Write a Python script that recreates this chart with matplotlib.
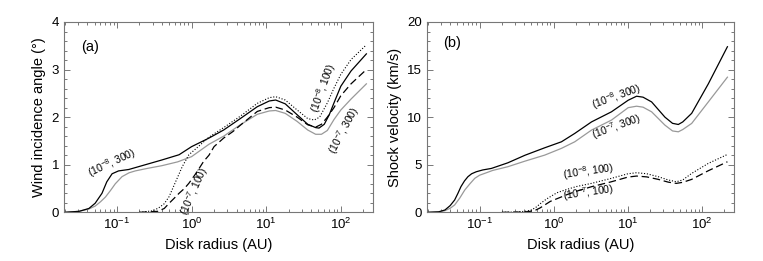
import matplotlib
matplotlib.use("Agg")
import matplotlib.pyplot as plt
from matplotlib.ticker import AutoMinorLocator

plt.rcParams["font.family"] = ["Liberation Sans", "DejaVu Sans"]
plt.rcParams["mathtext.fontset"] = "custom"
plt.rcParams["mathtext.rm"] = "Liberation Sans"
plt.rcParams["mathtext.default"] = "regular"

# ---- panel (a): wind incidence angle (deg) ----
ra_8_300 = [0.02, 0.031, 0.042, 0.051, 0.063, 0.073, 0.086, 0.105, 0.144, 0.24, 0.40, 0.68,
            1.0, 1.71, 2.69, 4.5, 7.6, 11, 13.4, 18, 26, 36, 46, 51, 60, 70, 81, 100, 137, 220]
aa_8_300 = [0.0, 0.02, 0.08, 0.19, 0.40, 0.64, 0.81, 0.87, 0.90, 1.0, 1.10, 1.21,
            1.38, 1.56, 1.73, 1.97, 2.22, 2.34, 2.36, 2.28, 2.05, 1.85, 1.78, 1.77, 1.85, 2.05, 2.3, 2.65, 2.97, 3.33]

ra_7_300 = [0.02, 0.031, 0.042, 0.051, 0.06, 0.070, 0.082, 0.095, 0.117, 0.145, 0.176, 0.25, 0.40, 0.65,
            1.0, 1.71, 2.69, 4.5, 7.6, 11, 13.4, 18, 26, 36, 46, 55, 66, 81, 100, 137, 220]
aa_7_300 = [0.0, 0.02, 0.07, 0.13, 0.22, 0.32, 0.46, 0.60, 0.75, 0.83, 0.87, 0.92, 0.98, 1.06,
            1.17, 1.43, 1.6, 1.84, 2.06, 2.13, 2.14, 2.08, 1.91, 1.73, 1.64, 1.64, 1.72, 1.95, 2.15, 2.38, 2.7]

ra_8_100 = [0.2, 0.30, 0.36, 0.43, 0.50, 0.61, 0.75, 0.92, 1.13, 1.71, 2.69, 4.5, 7.6, 11, 13.4,
            18, 26, 36, 44, 52, 66, 81, 100, 137, 220]
aa_8_100 = [0.0, 0.03, 0.09, 0.18, 0.33, 0.64, 0.96, 1.21, 1.33, 1.58, 1.78, 2.02, 2.29, 2.41, 2.43,
            2.36, 2.15, 1.97, 1.94, 2.0, 2.3, 2.61, 2.9, 3.21, 3.52]

ra_7_100 = [0.2, 0.35, 0.43, 0.50, 0.58, 0.68, 0.8, 0.92, 1.1, 1.26, 1.45, 1.71, 2.0, 2.69, 3.6, 4.5,
            7.6, 11, 13.4, 18, 26, 36, 46, 55, 66, 81, 100, 137, 220]
aa_7_100 = [0.0, 0.02, 0.08, 0.19, 0.29, 0.40, 0.5, 0.61, 0.78, 0.92, 1.07, 1.2, 1.38, 1.56, 1.70, 1.83,
            2.12, 2.2, 2.21, 2.15, 2.0, 1.84, 1.79, 1.85, 2.0, 2.2, 2.45, 2.7, 3.0]

# ---- panel (b): shock velocity (km/s) ----
rb_8_300 = [0.02, 0.028, 0.034, 0.040, 0.046, 0.051, 0.056, 0.0625, 0.0695, 0.078, 0.090, 0.11, 0.144,
            0.24, 0.41, 0.755, 1.27, 1.92, 3.23, 6.0, 10.1, 13.1, 16, 20.9, 31.6, 40, 47.9, 55, 72.5, 121.6, 220]
vb_8_300 = [0.0, 0.05, 0.24, 0.7, 1.29, 2.0, 2.7, 3.3, 3.74, 4.05, 4.26, 4.45, 4.61,
            5.2, 6.0, 6.78, 7.41, 8.29, 9.5, 10.56, 11.78, 12.2, 12.1, 11.6, 10.0, 9.35, 9.23, 9.5, 10.4, 13.5, 17.4]

rb_7_300 = [0.02, 0.028, 0.034, 0.040, 0.046, 0.054, 0.063, 0.074, 0.086, 0.100, 0.117, 0.15,
            0.24, 0.41, 0.755, 1.27, 1.92, 3.23, 6.0, 10.1, 13.1, 16, 20.9, 31.6, 40, 47.9, 55, 72.5, 121.6, 220]
vb_7_300 = [0.0, 0.04, 0.17, 0.42, 0.77, 1.5, 2.34, 3.0, 3.57, 3.9, 4.09, 4.4,
            4.79, 5.38, 6.01, 6.72, 7.41, 8.64, 9.69, 11.0, 11.15, 11.05, 10.56, 9.16, 8.55, 8.46, 8.7, 9.34, 11.6, 14.2]

rb_8_100 = [0.2, 0.3, 0.41, 0.50, 0.58, 0.68, 0.8, 0.93, 1.1, 1.41, 2.0, 3.23, 6.0, 10, 13.1,
            18, 25.7, 35, 45, 55, 72.5, 121.6, 220]
vb_8_100 = [0.0, 0.03, 0.1, 0.24, 0.55, 1.0, 1.4, 1.71, 2.05, 2.34, 2.7, 3.04, 3.57, 4.05, 4.16,
            4.05, 3.74, 3.4, 3.21, 3.4, 4.09, 5.14, 6.08]

rb_7_100 = [0.2, 0.35, 0.45, 0.55, 0.65, 0.755, 0.9, 1.14, 1.5, 1.92, 3.23, 6.0, 10, 13.1,
            18, 25.7, 35, 45, 55, 72.5, 121.6, 220]
vb_7_100 = [0.0, 0.02, 0.07, 0.17, 0.45, 0.77, 1.15, 1.47, 1.85, 2.16, 2.69, 3.21, 3.7, 3.81,
            3.72, 3.46, 3.17, 3.04, 3.15, 3.46, 4.37, 5.31]

GRAY = "#999999"
DOT = (0, (1, 1.6))
DASH = (0, (6, 3))
lab_fs = 10.5
tick_fs = 9.5
ann_fs = 7.5

fig = plt.figure(figsize=(7.63, 2.61), dpi=100)
ax1 = fig.add_axes([64 / 763, 1 - 212.3 / 261, 309 / 763, 190.3 / 261])
ax2 = fig.add_axes([427 / 763, 1 - 212.3 / 261, 307 / 763, 190.3 / 261])


def style(ax, ymax):
    ax.set_xscale("log")
    ax.set_xlim(0.0195, 270)
    ax.set_ylim(0, ymax)
    ax.yaxis.set_minor_locator(AutoMinorLocator(5))
    ax.tick_params(which="both", direction="in", top=True, right=True, color="#777777",
                   labelsize=tick_fs, width=0.7)
    ax.tick_params(which="major", length=4)
    ax.tick_params(which="minor", length=2)
    for s in ax.spines.values():
        s.set_color("#777777")
        s.set_linewidth(0.8)
    ax.set_xlabel("Disk radius (AU)", fontsize=lab_fs)


ax1.plot(ra_7_300, aa_7_300, color=GRAY, lw=0.9)
ax1.plot(ra_8_300, aa_8_300, color="black", lw=0.9)
ax1.plot(ra_8_100, aa_8_100, color="black", lw=0.8, ls=DOT)
ax1.plot(ra_7_100, aa_7_100, color="black", lw=0.9, ls=DASH)
style(ax1, 4)
ax1.set_yticks([0, 1, 2, 3, 4])
ax1.set_ylabel("Wind incidence angle (°)", fontsize=lab_fs)
ax1.text(0.043, 3.47, "(a)", fontsize=lab_fs, ha="center", va="center")
ax1.text(0.086, 1.04, "(10$^{-8}$, 300)", fontsize=ann_fs, rotation=25, ha="center", va="center")
ax1.text(1.07, 0.45, "(10$^{-7}$, 100)", fontsize=ann_fs, rotation=66, ha="center", va="center")
ax1.text(59, 2.62, "(10$^{-8}$, 100)", fontsize=ann_fs, rotation=70, ha="center", va="center")
ax1.text(112, 1.72, "(10$^{-7}$, 300)", fontsize=ann_fs, rotation=62, ha="center", va="center")

ax2.plot(rb_7_300, vb_7_300, color=GRAY, lw=0.9)
ax2.plot(rb_8_300, vb_8_300, color="black", lw=0.9)
ax2.plot(rb_8_100, vb_8_100, color="black", lw=0.8, ls=DOT)
ax2.plot(rb_7_100, vb_7_100, color="black", lw=0.9, ls=DASH)
style(ax2, 20)
ax2.set_yticks([0, 5, 10, 15, 20])
ax2.set_ylabel("Shock velocity (km/s)", fontsize=lab_fs)
ax2.text(0.043, 17.8, "(b)", fontsize=lab_fs, ha="center", va="center")
ax2.text(7.1, 12.1, "(10$^{-8}$, 300)", fontsize=ann_fs, rotation=20, ha="center", va="center")
ax2.text(7.1, 8.95, "(10$^{-7}$, 300)", fontsize=ann_fs, rotation=20, ha="center", va="center")
ax2.text(2.97, 4.23, "(10$^{-8}$, 100)", fontsize=ann_fs, rotation=8, ha="center", va="center")
ax2.text(2.97, 2.03, "(10$^{-7}$, 100)", fontsize=ann_fs, rotation=8, ha="center", va="center")

fig.savefig("out.png", dpi=100)
